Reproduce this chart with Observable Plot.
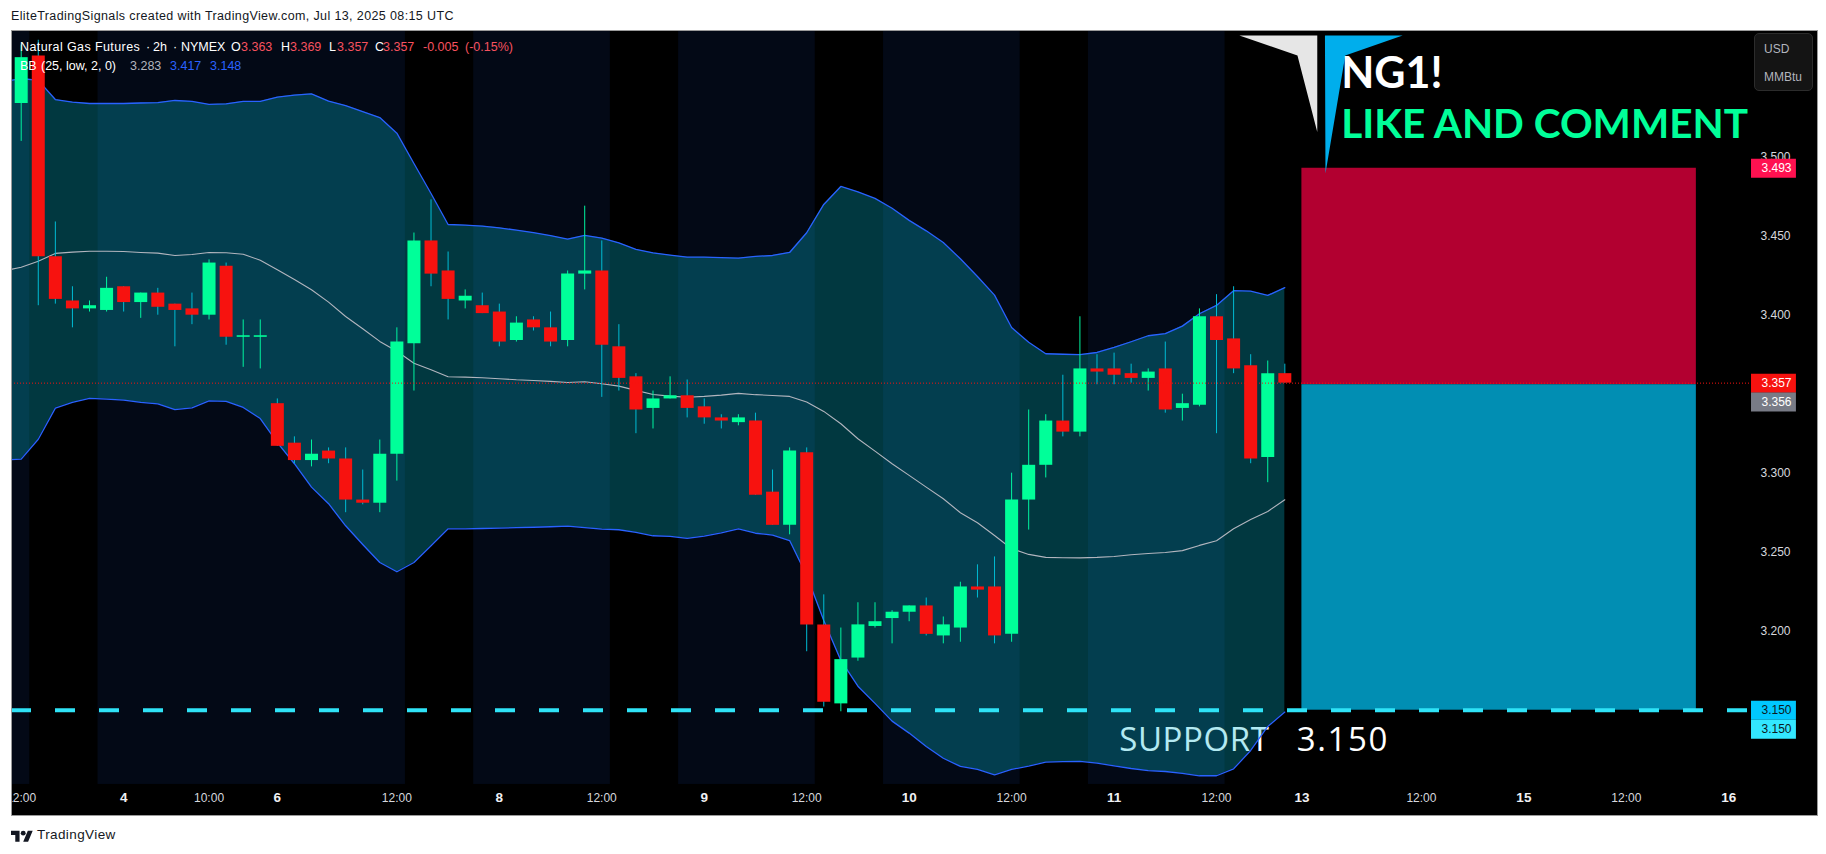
<!DOCTYPE html>
<html>
<head>
<meta charset="utf-8">
<script src="https://cdn.jsdelivr.net/npm/d3@7"></script>
<script src="https://cdn.jsdelivr.net/npm/@observablehq/plot@0.6"></script>
<style>
  html,body{margin:0;padding:0;background:#fff;overflow:hidden;}
  #page{position:relative;width:1826px;height:854px;font-family:"Liberation Sans",Arial,sans-serif;}
  #title{position:absolute;left:11px;top:9px;font-size:12.5px;letter-spacing:.38px;color:#131722;white-space:nowrap;}
  #chart{position:absolute;left:11px;top:30px;width:1806px;height:785px;}
  #edge{position:absolute;left:11px;top:30px;width:1805px;height:784px;border:1px solid #9a9a9a;box-sizing:content-box;pointer-events:none;}
  .seg{position:absolute;font-size:12.5px;white-space:nowrap;line-height:14px;}
  #unit{position:absolute;left:1754px;top:33px;width:57px;height:56px;background:#141414;border:1px solid #2c2c2c;border-radius:5px;color:#b2b5be;font-size:12px;}
  #unit span{position:absolute;left:9px;white-space:nowrap;}
  #foot{position:absolute;left:11px;top:827px;display:flex;align-items:center;gap:4px;font-size:13.5px;letter-spacing:.4px;color:#131722;}
  .wide text{letter-spacing:.6px;}
  .wider text{letter-spacing:1.6px;}
</style>
</head>
<body>
<div id="page">
  <div id="chart"></div>
  <div id="edge"></div>
  <div id="title"></div>
  <div id="legend"></div>
  <div id="unit"><span style="top:8px">USD</span><span style="top:36px">MMBtu</span></div>
  <div id="foot"><svg width="22" height="14" viewBox="0 0 36 22"><path fill="#131722" d="M14 22H7V11H0V4h14v18zM28 22h-8l7.5-18h8L28 22z"/><circle fill="#131722" cx="20" cy="8" r="4"/></svg><span>TradingView</span></div>
</div>
<script>
// ---- chart values ----
const titleText = "EliteTradingSignals created with TradingView.com, Jul 13, 2025 08:15 UTC";
const opens = [3.534,3.564,3.437,3.409,3.404,3.403,3.418,3.408,3.414,3.407,
3.404,3.400,3.431,3.386,3.386,3.344,3.319,3.308,3.314,3.309,
3.283,3.281,3.312,3.382,3.447,3.428,3.409,3.406,3.402,3.384,
3.397,3.392,3.384,3.426,3.428,3.380,3.361,3.341,3.347,3.349,
3.342,3.335,3.332,3.333,3.288,3.267,3.313,3.204,3.154,3.183,
3.203,3.208,3.212,3.216,3.197,3.202,3.228,3.228,3.198,3.283,
3.305,3.333,3.326,3.366,3.366,3.363,3.360,3.366,3.341,3.343,
3.399,3.385,3.368,3.310,3.363];
const highs = [3.571,3.574,3.459,3.418,3.409,3.424,3.418,3.414,3.417,3.407,
3.414,3.435,3.433,3.397,3.397,3.347,3.323,3.321,3.316,3.316,
3.302,3.321,3.392,3.452,3.473,3.440,3.416,3.414,3.407,3.399,
3.399,3.402,3.428,3.469,3.447,3.394,3.363,3.352,3.361,3.359,
3.347,3.337,3.337,3.338,3.302,3.316,3.316,3.223,3.202,3.218,
3.218,3.213,3.216,3.221,3.209,3.231,3.242,3.247,3.300,3.340,
3.337,3.362,3.399,3.375,3.376,3.369,3.366,3.383,3.350,3.404,
3.413,3.418,3.375,3.371,3.369];
const lows = [3.510,3.406,3.407,3.392,3.402,3.402,3.402,3.398,3.400,3.380,
3.394,3.397,3.381,3.367,3.366,3.317,3.306,3.304,3.306,3.275,
3.280,3.275,3.295,3.352,3.418,3.397,3.404,3.401,3.380,3.383,
3.390,3.380,3.380,3.416,3.348,3.352,3.325,3.328,3.347,3.335,
3.331,3.328,3.330,3.286,3.267,3.261,3.187,3.152,3.149,3.181,
3.202,3.192,3.206,3.197,3.192,3.193,3.221,3.192,3.193,3.264,
3.297,3.323,3.323,3.356,3.356,3.357,3.352,3.338,3.333,3.342,
3.325,3.363,3.306,3.294,3.357];
const closes = [3.563,3.437,3.410,3.404,3.406,3.417,3.408,3.414,3.405,3.403,
3.400,3.433,3.386,3.387,3.387,3.317,3.308,3.312,3.309,3.283,
3.281,3.312,3.383,3.447,3.426,3.410,3.412,3.401,3.383,3.395,
3.392,3.383,3.426,3.428,3.381,3.360,3.340,3.347,3.349,3.341,
3.335,3.333,3.335,3.286,3.267,3.314,3.204,3.155,3.182,3.204,
3.206,3.212,3.216,3.198,3.204,3.228,3.226,3.197,3.283,3.305,
3.333,3.326,3.366,3.364,3.362,3.360,3.364,3.340,3.344,3.399,
3.384,3.366,3.309,3.363,3.357];
// Bollinger values, first entry belongs to the bar just off the left edge
const bbUpper = [3.5479,3.5498,3.5486,3.5365,3.5348,3.5340,3.5340,3.5340,3.5343,3.5346,3.5359,
3.5353,3.5334,3.5338,3.5353,3.5353,3.5380,3.5393,3.5401,3.5355,3.5327,
3.5289,3.5251,3.5152,3.4960,3.4770,3.4574,3.4570,3.4564,3.4553,3.4538,
3.4522,3.4503,3.4481,3.4505,3.4488,3.4458,3.4416,3.4395,3.4380,3.4367,
3.4367,3.4364,3.4361,3.4372,3.4378,3.4397,3.4522,3.4701,3.4815,3.4781,
3.4739,3.4677,3.4600,3.4534,3.4460,3.4357,3.4245,3.4127,3.3922,3.3829,
3.3756,3.3753,3.3750,3.3764,3.3796,3.3832,3.3870,3.3883,3.3931,3.4009,
3.4062,3.4155,3.4152,3.4125,3.4174];
const bbLower = [3.3084,3.3089,3.3215,3.3412,3.3448,3.3473,3.3469,3.3462,3.3448,3.3439,3.3402,
3.3414,3.3458,3.3454,3.3416,3.3346,3.3193,3.3060,3.2912,3.2807,3.2667,
3.2549,3.2435,3.2376,3.2435,3.2541,3.2648,3.2648,3.2650,3.2652,3.2655,
3.2658,3.2661,3.2665,3.2655,3.2646,3.2642,3.2625,3.2604,3.2600,3.2587,
3.2602,3.2623,3.2648,3.2620,3.2608,3.2574,3.2353,3.2068,3.1815,3.1652,
3.1543,3.1431,3.1355,3.1270,3.1196,3.1144,3.1125,3.1091,3.1125,3.1146,
3.1171,3.1174,3.1176,3.1165,3.1148,3.1131,3.1117,3.1112,3.1100,3.1085,
3.1085,3.1129,3.1245,3.1397,3.1488];
const bbMid = [3.4280,3.4304,3.4342,3.4391,3.4399,3.4405,3.4405,3.4403,3.4397,3.4393,3.4378,
3.4384,3.4397,3.4395,3.4386,3.4348,3.4288,3.4226,3.4161,3.4083,3.3992,
3.3914,3.3834,3.3772,3.3696,3.3655,3.3610,3.3608,3.3604,3.3598,3.3591,
3.3587,3.3581,3.3574,3.3579,3.3566,3.3551,3.3524,3.3498,3.3488,3.3481,
3.3486,3.3494,3.3505,3.3497,3.3492,3.3486,3.3450,3.3391,3.3313,3.3218,
3.3140,3.3060,3.2986,3.2912,3.2838,3.2750,3.2686,3.2606,3.2522,3.2486,
3.2467,3.2465,3.2464,3.2467,3.2473,3.2484,3.2492,3.2498,3.2510,3.2543,
3.2572,3.2648,3.2707,3.2758,3.2832];
const sessionStarts = [-1,4.5,26.5,38.5,50.5,62.5];
const sessionEnds   = [0.5,22.5,34.5,46.5,58.5,70.5];
const priceTicks = [3.2,3.25,3.3,3.35,3.4,3.45,3.5];
const timeTicks = [0,11,22,34,46,58,70,82,94];
const timeLabels = ["12:00","10:00","12:00","12:00","12:00","12:00","12:00","12:00","12:00"];
const dayTicks = [6,15,28,40,52,64,75,88,100];
const dayLabels = ["4","6","8","9","10","11","13","15","16"];
const lastPrice = 3.357;
const supportLevel = 3.150;
const targetTop = 3.493;
const stopLine = 3.356;
const boxStart = 75, boxEnd = 98.1;
const tagValues = ["3.493","3.357","3.356","3.150","3.150"];
const tagPlaces = [3.493,3.357,3.345,3.150,3.138];
const tagFills  = ["#ff1150","#f7120f","#787b86","#00c8ff","#33e7ff"];
const tagInks   = ["#fff","#fff","#fff","#0b1a22","#0b1a22"];
const logoWhiteX = [71.34,75.9,75.9,74.74], logoWhiteY = [3.577,3.577,3.516,3.5644];
const logoBlueX = [76.35,80.9,77.54,76.38], logoBlueY = [3.577,3.577,3.5644,3.4897];

const legendTop = [
 ["Natural Gas Futures",20,"#fff"],["·",146,"#fff"],["2h",153,"#fff"],["·",173,"#fff"],["NYMEX",181,"#fff"],
 ["O",231,"#fff"],["3.363",241,"#f7525f"],["H",281,"#fff"],["3.369",290,"#f7525f"],["L",329,"#fff"],["3.357",337,"#f7525f"],
 ["C",375,"#fff"],["3.357",383,"#f7525f"],["-0.005",423,"#f7525f"],["(-0.15%)",465,"#f7525f"]];
const legendBottom = [
 ["BB",20,"#fff"],["(25, low, 2, 0)",41,"#fff"],["3.283",130,"#b2b5be"],["3.417",170,"#2962ff"],["3.148",210,"#2962ff"]];

// ---- derived tables ----
const candles = opens.map((o,i)=>({i,o,h:highs[i],l:lows[i],c:closes[i],up:closes[i]>=o}));
const bb = bbUpper.map((u,k)=>({i:k-1,u,l:bbLower[k],m:bbMid[k]}));
const sessions = sessionStarts.map((a,k)=>({a,b:sessionEnds[k]}));
const tags = tagValues.map((t,k)=>({t,y:tagPlaces[k],fill:tagFills[k],ink:tagInks[k]}));
const logoWhite = logoWhiteX.map((x,k)=>({x,y:logoWhiteY[k]}));
const logoBlue = logoBlueX.map((x,k)=>({x,y:logoBlueY[k]}));
const yBottom = 3.103, yTop = 3.5802;
const GREEN="#00ff99", RED="#f7120f", GWICK="#00f5a0", RWICK="#00bcd4";
const FONT='"Liberation Sans",Arial,sans-serif';

const chart = Plot.plot({
  width:1806, height:785,
  marginTop:0, marginLeft:0, marginRight:66, marginBottom:31,
  x:{domain:[0,100], range:[9.7,1717.3]},
  y:{domain:[3.15,3.5], range:[679.7,126.7]},
  style:{background:"#000",overflow:"hidden",fontFamily:FONT},
  marks:[
    Plot.rect(sessions,{x1:"a",x2:"b",y1:()=>yBottom,y2:()=>yTop,fill:"#030916"}),
    Plot.axisY(priceTicks.filter(t=>t!==3.35),{anchor:"right",tickSize:0,tickPadding:9,label:null,fontSize:12,color:"#d6d8de",tickFormat:d=>d.toFixed(3)}),
    Plot.axisX(timeTicks,{anchor:"bottom",tickSize:0,tickPadding:9,label:null,fontSize:12,color:"#d6d8de",tickFormat:d=>timeLabels[timeTicks.indexOf(d)]}),
    Plot.axisX(dayTicks,{anchor:"bottom",tickSize:0,tickPadding:8,label:null,fontSize:13.5,fontWeight:"bold",color:"#f0f1f4",tickFormat:d=>dayLabels[dayTicks.indexOf(d)]}),
    Plot.text(["SUPPORT"],{x:()=>64.3,y:()=>3.1241,text:d=>d,fill:"#fff",fontSize:33,fontFamily:"Open Sans",textAnchor:"start",lineAnchor:"bottom",className:"wide"}),
    Plot.text(["3.150"],{x:()=>74.7,y:()=>3.1241,text:d=>d,fill:"#fff",fontSize:33,fontFamily:"Open Sans",textAnchor:"start",lineAnchor:"bottom",className:"wider"}),
    Plot.areaY(bb,{x:"i",y1:"l",y2:"u",fill:"#03bbd5",fillOpacity:0.3}),
    Plot.line(bb,{x:"i",y:"u",stroke:"#2962ff",strokeWidth:1.3}),
    Plot.line(bb,{x:"i",y:"l",stroke:"#2962ff",strokeWidth:1.3}),
    Plot.line(bb,{x:"i",y:"m",stroke:"#b2b5be",strokeWidth:1.1}),
    Plot.ruleX(candles,{x:"i",y1:"l",y2:"h",stroke:d=>d.up?GWICK:RWICK,strokeWidth:1}),
    Plot.ruleX(candles,{x:"i",y1:"o",y2:"c",stroke:d=>d.up?GREEN:RED,strokeWidth:13}),
    Plot.rect([0],{x1:()=>boxStart,x2:()=>boxEnd,y1:()=>stopLine,y2:()=>targetTop,fill:"#b20030"}),
    Plot.rect([0],{x1:()=>boxStart,x2:()=>boxEnd,y1:()=>supportLevel,y2:()=>stopLine,fill:"#018eb3"}),
    Plot.ruleY([lastPrice],{stroke:RED,strokeWidth:1,strokeDasharray:"1,2"}),
    Plot.ruleY([supportLevel],{stroke:"#2fe3f7",strokeWidth:4,strokeDasharray:"20,24"}),
    Plot.line(logoWhite,{x:"x",y:"y",fill:"#e6e6e6",stroke:"none"}),
    Plot.line(logoBlue,{x:"x",y:"y",fill:"#00aeec",stroke:"none"}),
    Plot.text(["NG1!"],{x:()=>77.3,y:()=>3.5439,text:d=>d,fill:"#fff",fontSize:43,fontWeight:700,fontFamily:"Lato",textAnchor:"start",lineAnchor:"bottom"}),
    Plot.text(["LIKE AND COMMENT"],{x:()=>77.3,y:()=>3.5123,text:d=>d,fill:GREEN,fontSize:40.5,fontWeight:700,fontFamily:"Lato",textAnchor:"start",lineAnchor:"bottom"}),
    Plot.ruleY(tags,{y:"y",x1:()=>101.33,x2:()=>103.96,stroke:"fill",strokeWidth:19}),
    Plot.text(tags,{y:"y",x:()=>101.33,dx:10,text:"t",fill:"ink",fontSize:12,textAnchor:"start"})
  ]
});
document.getElementById("chart").appendChild(chart);
document.getElementById("title").textContent = titleText;
const legend = document.getElementById("legend");
[[legendTop,40],[legendBottom,59]].forEach(([row,top])=>row.forEach(([t,left,color])=>{
  const s=document.createElement("span");s.className="seg";s.textContent=t;
  s.style.left=left+"px";s.style.top=top+"px";s.style.color=color;
  if(t.startsWith("Natural")) s.style.letterSpacing=".4px";
  legend.appendChild(s);
}));
</script>
</body>
</html>
